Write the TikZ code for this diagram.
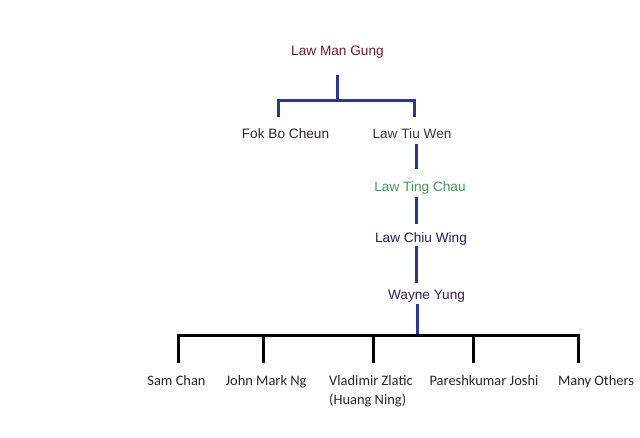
\documentclass[tikz,border=0pt]{standalone}
\usepackage{fontspec}
\setmainfont{Liberation Sans}
\newfontfamily\calib{Carlito}
\usepackage{tikz}
\usetikzlibrary{positioning,calc}
\definecolor{lineblue}{RGB}{45,55,140}
\definecolor{maroonname}{RGB}{100,30,45}
\definecolor{fokgray}{RGB}{45,35,35}
\definecolor{tiugray}{RGB}{60,55,55}
\definecolor{tinggreen}{RGB}{70,150,90}
\definecolor{chiunavy}{RGB}{30,30,95}
\definecolor{waynepurple}{RGB}{45,30,85}
\tikzset{
  master/.style={inner sep=0pt, anchor=base, text height=10bp, text depth=3bp,
    font=\fontsize{13.7}{16}\selectfont},
  student/.style={inner sep=0pt, anchor=base, text height=10bp, text depth=3bp,
    font=\calib\fontsize{14.5}{19}\selectfont, text=black!85},
  famline/.style={draw=lineblue, line width=3bp},
  kinline/.style={draw=black, line width=3bp}
}

\begin{document}
\begin{tikzpicture}[x=1bp, y=-1bp]
  \useasboundingbox (0,0) rectangle (640,438);
  % lineage, top to bottom
  \node[master, text=maroonname] (lmg) at (337.5,56) {Law Man Gung};
  \node[master, text=fokgray] (fok) at (285.5,139) {Fok Bo Cheun};
  \node[master, text=tiugray] (tiu) at (412,139) {Law Tiu Wen};
  \node[master, text=tinggreen] (ting) at (420,192) {Law Ting Chau};
  \node[master, text=chiunavy] (chiu) at (421,243) {Law Chiu Wing};
  \node[master, text=waynepurple] (wayne) at (426.5,300) {Wayne Yung};
  % students of Wayne Yung
  \node[student] (sam) at (176.5,385) {Sam Chan};
  \node[student] (john) at (266,385) {John Mark Ng};
  \node[student, anchor=north west, align=left, text height=, text depth=] (vlad) at (329,375)
    {Vladimir Zlatic\\(Huang Ning)};
  \node[student] (paresh) at (484,385) {Pareshkumar Joshi};
  \node[student] (others) at (596,385) {Many Others};
  % junctions
  \coordinate (split) at (337.5,101);
  \coordinate (spine) at (416,0);
  \coordinate (barL) at (178,335);
  \coordinate (barR) at (578,335);
  % first split
  \draw[famline, shorten <=16bp] (lmg.south) -- (lmg.south |- split);
  \draw[famline, shorten <=12bp, shorten >=12bp]
    ([xshift=-7.5bp]fok.north) |- (split) -| ([xshift=2bp]tiu.north);
  % single line of descent
  \draw[famline, shorten <=2bp, shorten >=13bp] (tiu.south -| spine) -- (ting.north -| spine);
  \draw[famline, shorten <=2bp, shorten >=9bp] (ting.south -| spine) -- (chiu.north -| spine);
  \draw[famline, shorten >=7bp] (chiu.south -| spine) -- (wayne.north -| spine);
  \draw[famline, shorten <=1bp, shorten >=-1.5bp] ([xshift=1.5bp]wayne.south -| spine) -- ([xshift=1.5bp]barL -| spine);
  % students bar
  \draw[kinline, line cap=rect] (barL) -- (barR);
  \foreach \n/\x in {sam/178, john/263, vlad/373, paresh/473, others/578}
    \draw[kinline, shorten >=12bp] (\x,335) -- (\x,375);
\end{tikzpicture}
\end{document}
